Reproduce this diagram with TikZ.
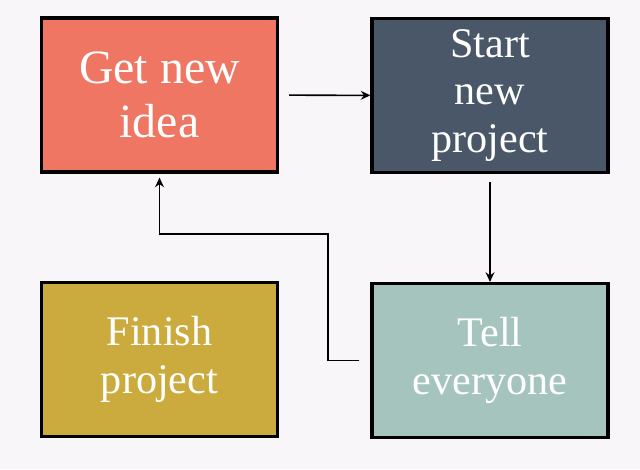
\documentclass[tikz,border=0pt]{standalone}
\usepackage{fontspec}
\setmainfont{Liberation Serif}
\usepackage{tikz}
\usetikzlibrary{arrows.meta, positioning}
\definecolor{fondgris}{RGB}{248,246,248}
\definecolor{ideesaumon}{RGB}{238,118,98}
\definecolor{projetardoise}{RGB}{73,87,104}
\definecolor{finmoutarde}{RGB}{203,170,62}
\definecolor{direvert}{RGB}{164,196,189}

\begin{document}
\begin{tikzpicture}[x=0.025cm, y=-0.025cm,
    carte/.style={rectangle, draw=black, line width=2.2pt, minimum width=5.9cm, minimum height=3.85cm,
        text=white, align=center, font=\fontsize{30}{34}\selectfont},
    fleche/.style={-{Stealth[length=2.4mm, width=2.2mm]}, line width=1.1pt}]
    \fill[fondgris] (0,0) rectangle (640,469);
    \useasboundingbox (0,0) rectangle (640,469);

    \node[carte, fill=ideesaumon, font=\fontsize{34}{38}\selectfont] (idee) at (159.5,95) {Get new\\idea};
    \node[carte, fill=projetardoise] (projet) at (490,95.5) {Start\\new\\project};
    \node[carte, fill=finmoutarde] (fin) at (159.5,359.5) {Finish\\project};
    \node[carte, fill=direvert] (dire) at (490,360.5) {Tell\\everyone};

    \draw[fleche, shorten <=2.5mm] (idee) -- (projet);
    \draw[fleche, shorten <=2mm] (projet) -- (dire);
    % retour vers une nouvelle idee
    \draw[fleche, shorten <=2.75mm, shorten >=1mm] (dire.west) -| (328,234) -| (idee.south);
\end{tikzpicture}
\end{document}
